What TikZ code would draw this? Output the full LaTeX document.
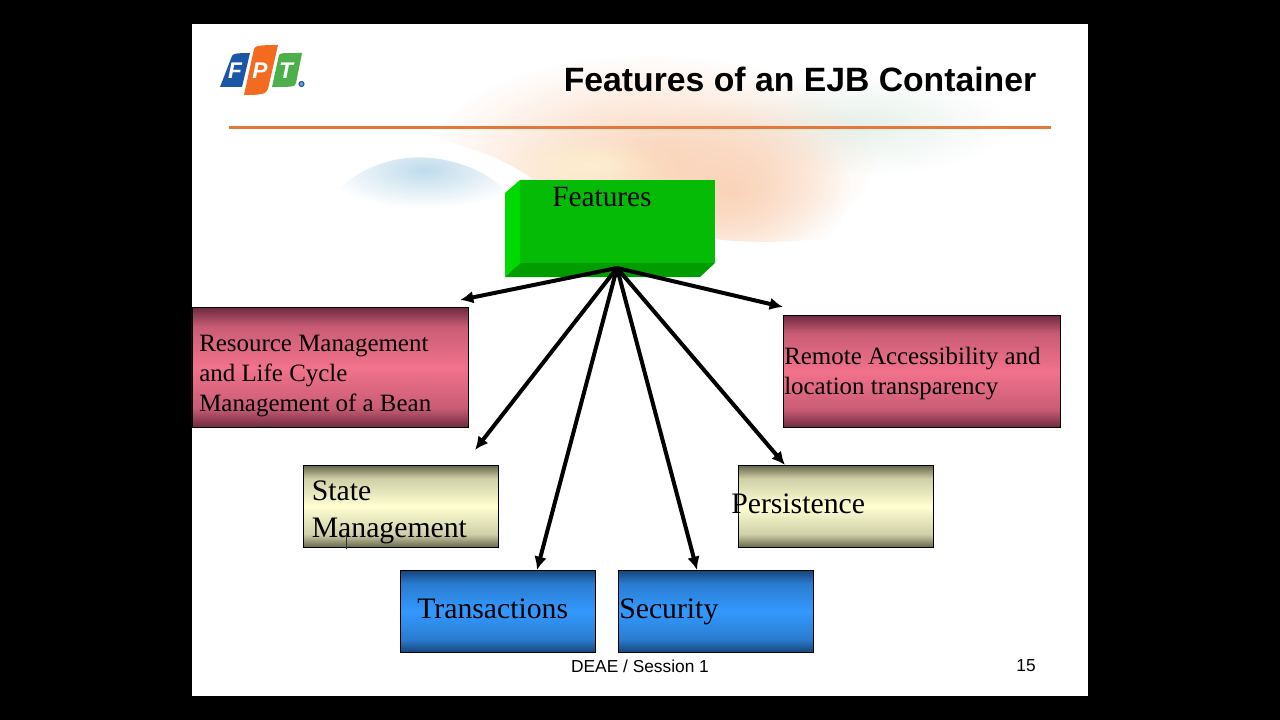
\documentclass[tikz,border=0pt]{standalone}
\usepackage{fontspec}
\setmainfont{Liberation Serif}
\newfontfamily\arialf{Liberation Sans}
\usetikzlibrary{fadings,arrows.meta}
\definecolor{pinkmid}{HTML}{F2728C}
\definecolor{pinkdark}{HTML}{6E2A40}
\definecolor{pinkin}{HTML}{C85C74}
\definecolor{yelmid}{HTML}{FFFFD2}
\definecolor{yeldark}{HTML}{66664C}
\definecolor{yelin}{HTML}{CFCFA8}
\definecolor{bluemid}{HTML}{3399FF}
\definecolor{bluedark}{HTML}{15457A}
\definecolor{bluein}{HTML}{2A7CCF}
\definecolor{rulec}{HTML}{E4783A}
\definecolor{peach}{HTML}{FAD3B8}
\definecolor{butter}{HTML}{FDEFCF}
\definecolor{skyb}{HTML}{BFDCEC}
\definecolor{mist}{HTML}{E6F0EA}
\definecolor{logob}{HTML}{1B57A6}
\definecolor{logoo}{HTML}{F26B21}
\definecolor{logog}{HTML}{4DAF4A}
\definecolor{gfront}{HTML}{06BB06}
\definecolor{gleft}{HTML}{00D900}
\definecolor{gbot}{HTML}{009C00}
\pgfdeclareverticalshading{pinkshade}{100bp}{color(0bp)=(pinkdark);color(25bp)=(pinkdark);color(33bp)=(pinkin);color(50bp)=(pinkmid);color(67bp)=(pinkin);color(75bp)=(pinkdark);color(100bp)=(pinkdark)}
\pgfdeclareverticalshading{yelshade}{100bp}{color(0bp)=(yeldark);color(25bp)=(yeldark);color(33bp)=(yelin);color(50bp)=(yelmid);color(67bp)=(yelin);color(75bp)=(yeldark);color(100bp)=(yeldark)}
\pgfdeclareverticalshading{blueshade}{100bp}{color(0bp)=(bluedark);color(25bp)=(bluedark);color(33bp)=(bluein);color(50bp)=(bluemid);color(67bp)=(bluein);color(75bp)=(bluedark);color(100bp)=(bluedark)}
\tikzfading[name=softedge,inner color=transparent!0,outer color=transparent!100]
\tikzset{
 x=0.75pt,y=-0.75pt,
 boxbase/.style={draw=black,line width=0.6pt,inner sep=0pt,anchor=north west,shade},
 pinkbox/.style={boxbase,shading=pinkshade,minimum width=207.5pt,minimum height=#1},
 yelbox/.style={boxbase,shading=yelshade,minimum width=146.2pt,minimum height=61.5pt},
 bluebox/.style={boxbase,shading=blueshade,minimum width=146.2pt,minimum height=61.5pt},
 smalltxt/.style={font=\fontsize{18.7pt}{22.5pt}\selectfont,anchor=north west,inner sep=0pt,align=left},
 bigtxt/.style={font=\fontsize{22.3pt}{27.75pt}\selectfont,anchor=north west,inner sep=0pt,align=left},
 conn/.style={draw=black,line width=3pt,-{Latex[length=10pt,width=9.5pt]}},
 logotxt/.style={font=\arialf\bfseries\itshape\fontsize{17pt}{17pt}\selectfont,text=white,inner sep=0pt},
 foottxt/.style={font=\arialf\fontsize{13pt}{15pt}\selectfont,inner sep=0pt},
}
\begin{document}
\begin{tikzpicture}
\useasboundingbox (0,0) rectangle (1280,720);
\fill[black] (0,0) rectangle (1280,720);
\fill[white] (192,24) rectangle (1088,696);
% background swooshes
\begin{scope}
\clip (192,24) rectangle (1088,696);
\fill[color=mist,path fading=softedge] (860,125) ellipse [x radius=150,y radius=50];
\begin{scope}
\clip (400,40) -- (960,40) -- (960,215) .. controls (880,235) and (800,245) .. (735,241) .. controls (690,238) and (640,225) .. (590,205) -- (540,185) .. controls (510,160) and (470,145) .. (400,130) -- cycle;
\fill[color=peach,path fading=softedge] (650,160) ellipse [x radius=225,y radius=105];
\fill[color=peach,path fading=softedge] (730,190) ellipse [x radius=120,y radius=85];
\fill[color=butter,path fading=softedge] (590,165) ellipse [x radius=90,y radius=30];
\end{scope}
\begin{scope}
\clip (330,230) -- (338,190) .. controls (370,158) and (425,145) .. (480,172) .. controls (500,182) and (512,195) .. (525,230) -- cycle;
\fill[color=skyb,path fading=softedge] (425,170) ellipse [x radius=100,y radius=38];
\end{scope}
\end{scope}
% logo
\fill[logob] (232,56) .. controls (233,54) and (235,53) .. (250,53) -- (242,87) -- (220,87) -- cycle;
\fill[logoo] (254,49) .. controls (255,46) and (258,45) .. (278,45) -- (268,89) .. controls (266,94) and (262,95) .. (244,95) -- cycle;
\fill[logog] (279,55) .. controls (280,53) and (282,53) .. (302,53) -- (296,83) .. controls (295,87) and (292,87) .. (272,87) -- cycle;
\node[logotxt] (logoF) at (235,71) {F};
\node[logotxt] (logoP) at (260,71) {P};
\node[logotxt] (logoT) at (286,71) {T};
\draw[logob,line width=0.8pt,fill=logob!60!white] (301.5,84) circle (2.5);
% title
\node[font=\arialf\bfseries\fontsize{25.3pt}{25.3pt}\selectfont,anchor=east,inner sep=0pt] (title) at (1036.5,79) {Features of an EJB Container};
\draw[rulec,line width=2.2pt] (229,127.5) -- (1050.5,127.5);
% green box
\fill[gfront] (520,180) -- (715,180) -- (715,263) -- (520,263) -- cycle;
\fill[gleft] (505,193) -- (520,180) -- (520,263) -- (505,277) -- cycle;
\fill[gbot] (505,277) -- (520,263) -- (715,263) -- (700,277) -- cycle;
\node[font=\fontsize{22pt}{26pt}\selectfont,anchor=north west,inner sep=0pt] (featlabel) at (552,187) {Features};
\coordinate (hub) at (617,268);
% boxes
\node[pinkbox=90pt] (resbox) at (191.5,307) {};
\node[pinkbox=84pt] (rembox) at (783,315) {};
\node[yelbox] (statebox) at (303,465) {};
\node[yelbox] (persbox) at (738,465) {};
\node[bluebox] (transbox) at (400,570) {};
\node[bluebox] (secbox) at (618,570) {};
\node[smalltxt] (restxt) at (199,335) {Resource Management\\and Life Cycle\\Management of a Bean};
\node[smalltxt] (remtxt) at (784,347) {Remote Accessibility and\\location transparency};
\node[bigtxt] (statetxt) at (311.5,481) {State\\Management};
\node[bigtxt] (perstxt) at (731,494) {Persistence};
\node[bigtxt] (transtxt) at (417,599) {Transactions};
\node[bigtxt] (sectxt) at (619,599) {Security};
% cursor
\draw[black!80,line width=0.6pt] (346,533) -- (346,549);
% arrow ends
\coordinate (e1) at (460,300);
\coordinate (e2) at (475,450);
\coordinate (e3) at (537,570);
\coordinate (e4) at (697,570);
\coordinate (e5) at (785,465);
\coordinate (e6) at (783,307);
\foreach \e in {e1,e2,e3,e4,e5,e6} \draw[conn] (hub) -- (\e);
% footer
\node[foottxt] (foot) at (640,666) {DEAE / Session 1};
\node[foottxt] (page) at (1026,666) {15};
\end{tikzpicture}
\end{document}
